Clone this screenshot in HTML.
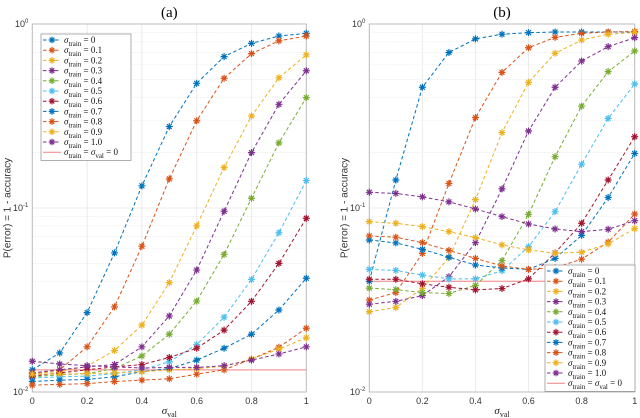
<!DOCTYPE html>
<html><head><meta charset="utf-8"><style>
body{margin:0;background:#fff;}
svg{display:block;font-family:"Liberation Sans",sans-serif;}
</style></head><body>
<svg id="fig" width="640" height="418" viewBox="0 0 640 418"></svg>
<script>
const xVals=[0,0.1,0.2,0.3,0.4,0.5,0.6,0.7,0.8,0.9,1];
const seriesLabels=["0","0.1","0.2","0.3","0.4","0.5","0.6","0.7","0.8","0.9","1.0"];
const colors=["#0072BD","#D95319","#EDB120","#7E2F8E","#77AC30","#4DBEEE","#A2142F","#0072BD","#D95319","#EDB120","#7E2F8E"];
const xTickLabels=["0","0.2","0.4","0.6","0.8","1"];
const xTicks=[0,0.2,0.4,0.6,0.8,1];
const yDecades=[-2,-1,0];
const dataA=[
[0.0132,0.0163,0.027,0.057,0.132,0.277,0.476,0.665,0.785,0.86,0.89],
[0.0126,0.0132,0.0176,0.029,0.062,0.144,0.298,0.507,0.69,0.81,0.86],
[0.0126,0.0129,0.0138,0.0168,0.0231,0.0393,0.080,0.166,0.316,0.51,0.68],
[0.0127,0.0132,0.0137,0.0141,0.0176,0.0259,0.046,0.096,0.2,0.366,0.557],
[0.0121,0.0124,0.0126,0.0134,0.0157,0.0206,0.0312,0.056,0.113,0.226,0.398],
[0.0119,0.0121,0.0122,0.0126,0.0132,0.0146,0.0181,0.0255,0.0409,0.0734,0.141],
[0.0122,0.0127,0.0132,0.0137,0.0141,0.0154,0.0173,0.0217,0.0311,0.05,0.088],
[0.0114,0.0116,0.0117,0.0121,0.0129,0.0134,0.0149,0.0173,0.0206,0.0279,0.0415],
[0.0109,0.0110,0.0111,0.0114,0.0116,0.0118,0.0125,0.0132,0.0151,0.0175,0.0222],
[0.0125,0.0125,0.0126,0.0127,0.0129,0.0132,0.0134,0.0138,0.0151,0.0171,0.0197],
[0.0147,0.0142,0.0139,0.0137,0.0135,0.0136,0.0136,0.0139,0.0149,0.0161,0.0176]];
const refA=0.0132;
const dataB=[
[0.040,0.142,0.453,0.70,0.83,0.88,0.897,0.905,0.905,0.905,0.905],
[0.0316,0.0347,0.0567,0.136,0.31,0.546,0.743,0.846,0.89,0.905,0.91],
[0.0273,0.0288,0.0366,0.0537,0.111,0.257,0.482,0.693,0.818,0.88,0.9],
[0.030,0.0311,0.0334,0.0423,0.0648,0.127,0.262,0.453,0.629,0.753,0.843],
[0.0367,0.036,0.0347,0.0343,0.038,0.0518,0.0924,0.19,0.358,0.551,0.713],
[0.0464,0.0458,0.0432,0.0412,0.0412,0.0456,0.0616,0.0955,0.173,0.307,0.472],
[0.041,0.041,0.0387,0.0371,0.0359,0.0365,0.0412,0.057,0.0826,0.142,0.244],
[0.067,0.0646,0.0596,0.054,0.049,0.0472,0.0464,0.0532,0.071,0.114,0.198],
[0.0705,0.0694,0.0648,0.0588,0.0532,0.0484,0.0464,0.0474,0.0527,0.0652,0.0928],
[0.0843,0.0826,0.0792,0.0744,0.069,0.063,0.0592,0.0568,0.0575,0.0638,0.0773],
[0.1217,0.12,0.115,0.108,0.0988,0.0897,0.0819,0.0769,0.0744,0.0766,0.0853]];
const refB=0.040;

const NS="http://www.w3.org/2000/svg";
const svg=document.getElementById('fig');
function mk(tag,attrs,parent){const e=document.createElementNS(NS,tag);for(const k in attrs)e.setAttribute(k,attrs[k]);(parent||svg).appendChild(e);return e;}

function panel(cfg){
  const g=mk('g',{});
  
  
  const X=v=>cfg.x0+(cfg.x1-cfg.x0)*v;
  const Y=v=>cfg.y0+(cfg.y1-cfg.y0)*(0-Math.log10(v))/2;
  for(let d=-2;d<0;d++)for(let m=2;m<10;m++){const y=Y(m*Math.pow(10,d));
    mk('line',{x1:cfg.x0,x2:cfg.x1,y1:y,y2:y,stroke:'#e2e2e2','stroke-width':0.7,'stroke-dasharray':'1,1.5'},g);}
  yDecades.forEach(d=>{const y=Y(Math.pow(10,d));mk('line',{x1:cfg.x0,x2:cfg.x1,y1:y,y2:y,stroke:'#e6e6e6','stroke-width':0.8},g);});
  xTicks.forEach(t=>{const x=X(t);mk('line',{x1:x,x2:x,y1:cfg.y0,y2:cfg.y1,stroke:'#e6e6e6','stroke-width':0.8},g);});
  mk('rect',{x:cfg.x0,y:cfg.y0,width:cfg.x1-cfg.x0,height:cfg.y1-cfg.y0,fill:'none',stroke:'#bdbdbd','stroke-width':1},g);
  xTicks.forEach((t,i)=>{const tx=mk('text',{x:X(t),y:cfg.y1+12,'text-anchor':'middle','font-size':9,fill:'#333'},g);tx.textContent=xTickLabels[i];
    
    });
  yDecades.forEach(d=>{const tx=mk('text',{x:cfg.x0-4,y:Y(Math.pow(10,d))+3,'text-anchor':'end','font-size':9,fill:'#333'},g);
    tx.innerHTML='10<tspan dy="-4" font-size="6">'+d+'</tspan>';
    
    });
  const tt=mk('text',{x:(cfg.x0+cfg.x1)/2,y:17,'text-anchor':'middle','font-size':15,'font-family':'Liberation Serif, serif',fill:'#000'},g);
  tt.textContent=cfg.title;
  
  
  const yl=mk('text',{x:0,y:0,transform:`translate(${cfg.x0-22},${(cfg.y0+cfg.y1)/2}) rotate(-90)`,'text-anchor':'middle','font-size':10,fill:'#333'},g);
  yl.textContent='P(error) = 1 - accuracy';
  
  
  const xl=mk('text',{x:(cfg.x0+cfg.x1)/2,y:414,'text-anchor':'middle','font-size':11,'font-family':'Liberation Serif, serif','font-style':'italic',fill:'#222'},g);
  xl.innerHTML='σ<tspan dy="3" font-size="8" font-style="normal">val</tspan>';
  
  
  const rl=mk('line',{x1:X(0),x2:X(cfg.refEnd),y1:Y(cfg.ref),y2:Y(cfg.ref),stroke:'#f08080','stroke-width':1},g);
  
  
  cfg.data.forEach((s,i)=>{
    const sg=mk('g',{},g);
    
    
    mk('polyline',{points:s.map((v,j)=>X(xVals[j])+','+Y(v)).join(' '),fill:'none',stroke:colors[i],'stroke-width':1,'stroke-dasharray':'3.5,2.5'},sg);
    s.forEach((v,j)=>{const p=mk('path',{d:star(X(xVals[j]),Y(v),3.5),stroke:colors[i],'stroke-width':1.2,fill:'none'},sg);
      
      });
  });
  const lg=mk('g',{},g);
  
  
  const lh=12*10.2+4;
  mk('rect',{x:cfg.lx,y:cfg.ly,width:cfg.lw,height:lh,fill:'#fff',stroke:'#999','stroke-width':0.8},lg);
  for(let i=0;i<12;i++){
    const y=cfg.ly+6+i*10.2;
    const ent=mk('g',{},lg);
    
    
    if(i<11){
      mk('line',{x1:cfg.lx+2,x2:cfg.lx+20,y1:y,y2:y,stroke:colors[i],'stroke-width':1,'stroke-dasharray':'3.5,2.5'},ent);
      mk('path',{d:star(cfg.lx+11,y,3.3),stroke:colors[i],'stroke-width':1.2,fill:'none'},ent);
      const t=mk('text',{x:cfg.lx+23,y:y+3,'font-size':9,'font-family':'Liberation Serif, serif',fill:'#111'},ent);
      t.innerHTML='<tspan font-style="italic">σ</tspan><tspan dy="3" font-size="7">train</tspan><tspan dy="-3"> = '+seriesLabels[i]+'</tspan>';
    } else {
      mk('line',{x1:cfg.lx+2,x2:cfg.lx+20,y1:y,y2:y,stroke:'#f08080','stroke-width':1},ent);
      const t=mk('text',{x:cfg.lx+23,y:y+3,'font-size':9,'font-family':'Liberation Serif, serif',fill:'#111'},ent);
      t.innerHTML='<tspan font-style="italic">σ</tspan><tspan dy="3" font-size="7">train</tspan><tspan dy="-3"> = </tspan><tspan font-style="italic">σ</tspan><tspan dy="3" font-size="7">val</tspan><tspan dy="-3"> = 0</tspan>';
    }
  }
}
function star(x,y,r){const d=r*0.7;
  return `M${x-r},${y}H${x+r}M${x},${y-r}V${y+r}M${x-d},${y-d}L${x+d},${y+d}M${x-d},${y+d}L${x+d},${y-d}`;}

panel({name:'panel-a',title:'(a)',x0:32.3,x1:306.3,y0:24,y1:392,data:dataA,ref:refA,refEnd:1,lx:41,ly:34,lw:90});
panel({name:'panel-b',title:'(b)',x0:369.3,x1:634.7,y0:24,y1:392,data:dataB,ref:refB,refEnd:0.66,lx:545,ly:265,lw:90});
</script>
</body></html>
